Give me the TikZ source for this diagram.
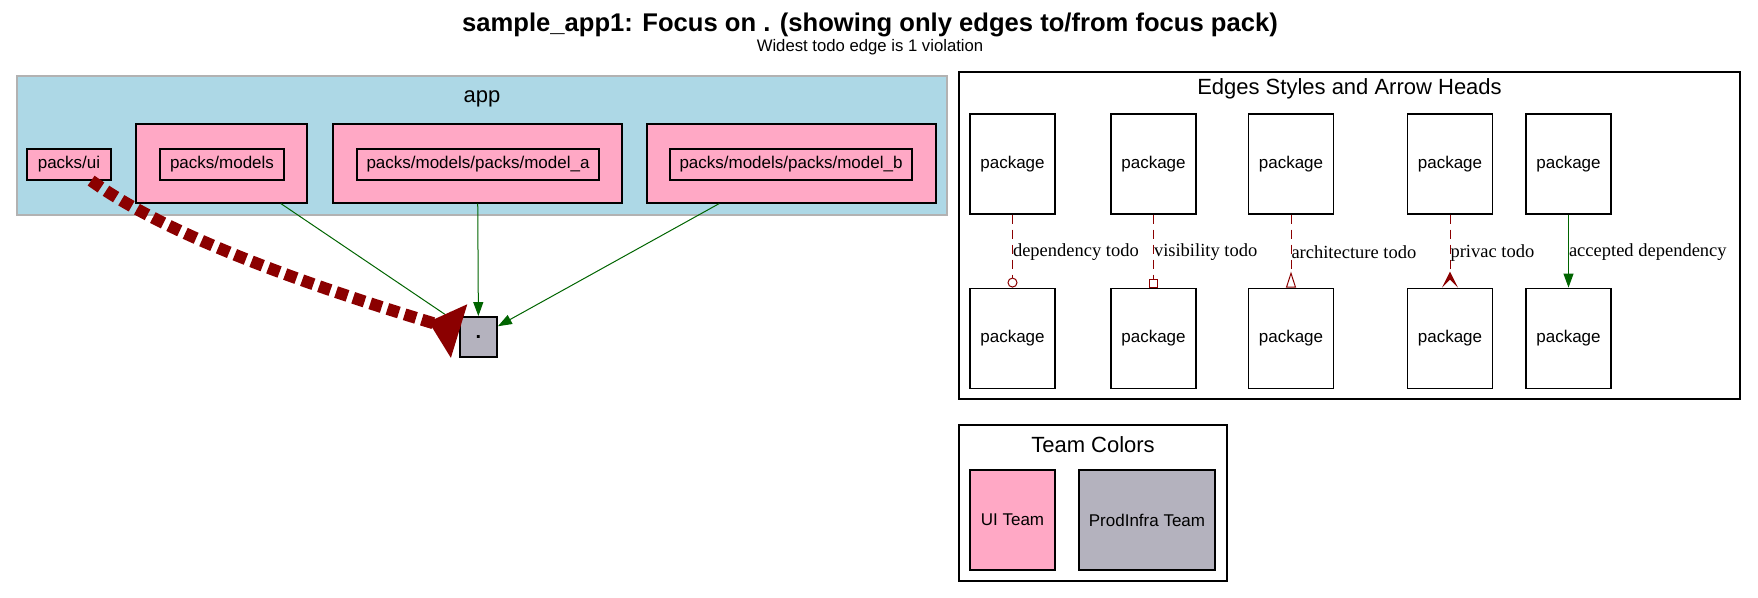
\documentclass[tikz,border=0pt]{standalone}
\usepackage{fontspec}
\setmainfont{Liberation Serif}
\setsansfont{Liberation Sans}
\usetikzlibrary{positioning,arrows.meta}

\definecolor{uipink}{HTML}{FFA8C5}
\definecolor{infragray}{HTML}{B4B2BE}
\definecolor{appblue}{HTML}{ADD8E6}
\definecolor{todored}{HTML}{8B0000}
\definecolor{okgreen}{HTML}{006400}

\begin{document}
\begin{tikzpicture}[
    x=0.5pt, y=-0.5pt,
    pack/.style={
        draw,
        fill=uipink,
        line width=0.6pt,
        inner sep=0pt,
        minimum height=15.5pt,
        font=\sffamily\fontsize{8.5}{10}\selectfont
    },
    outer/.style={
        draw,
        fill=uipink,
        line width=0.6pt,
        inner sep=0pt,
        minimum height=39.5pt
    },
    legendpack/.style={
        draw,
        line width=0.6pt,
        inner sep=0pt,
        minimum width=42.5pt,
        minimum height=50pt,
        font=\sffamily\fontsize{8.5}{10}\selectfont
    },
    cluster/.style={
        draw,
        line width=0.6pt,
        inner sep=0pt
    },
    clusterlabel/.style={
        font=\sffamily\fontsize{11}{13}\selectfont
    },
    todo/.style={
        todored,
        line width=0.5pt,
        dash pattern=on 4.5pt off 3pt
    },
    bigtodo/.style={
        todored,
        line width=6pt,
        dash pattern=on 6pt off 3pt,
        -{Triangle[reversed, length=16pt, width=27pt]}
    },
    accepted/.style={
        okgreen,
        line width=0.5pt,
        -{Triangle[length=7pt, width=5pt]}
    },
    edgelabel/.style={
        anchor=west,
        inner sep=0pt,
        text=black,
        font=\fontsize{9.25}{11}\selectfont
    }
]
\useasboundingbox (0,0) rectangle (1758,598);

% Title
\node (title)    at (870,25) {\sffamily\bfseries\fontsize{12.8}{15}\selectfont sample\_app1: Focus on . (showing only edges to/from focus pack)};
\node (subtitle) at (870,47) {\sffamily\fontsize{8.35}{10}\selectfont Widest todo edge is 1 violation};

% Clusters
\node (app)     [cluster, draw=gray!60, fill=appblue, minimum width=465pt, minimum height=69.5pt] at (482,145.5) {};
\node (applabel)[clusterlabel] at (482,99) {app};
\node (legend)  [cluster, minimum width=390.5pt, minimum height=163.5pt] at (1349.5,235.5) {};
\node (legendlabel)[clusterlabel] at (1349.5,89) {Edges Styles and Arrow Heads};
\node (teams)   [cluster, minimum width=134pt, minimum height=78pt] at (1093,503) {};
\node (teamslabel)[clusterlabel] at (1093,445) {Team Colors};

% Nodes
\node (ui)      [pack, minimum width=42pt] at (69,164.5) {packs/ui};
\node (models)  [outer, minimum width=85.5pt] at (221.5,163.5) {};
\node (modelsin)[pack, minimum width=62pt] at (222,164.5) {packs/models};
\node (modela)  [outer, minimum width=144.5pt] at (477.5,163.5) {};
\node (modelain)[pack, minimum width=121pt] at (478,164.5) {packs/models/packs/model\_a};
\node (modelb)  [outer, minimum width=144.5pt] at (791.5,163.5) {};
\node (modelbin)[pack, minimum width=121pt] at (791,164.5) {packs/models/packs/model\_b};
\node (dot)     [pack, fill=infragray, line width=0.9pt, minimum width=18.5pt, minimum height=20pt,
                 font=\sffamily\bfseries\fontsize{10}{12}\selectfont] at (478.5,337) {.};

% Legend nodes
\node (pa) [legendpack] at (1012.5,164) {package};
\node (pb) [legendpack] at (1153.5,164) {package};
\node (pc) [legendpack] at (1291,164)   {package};
\node (pd) [legendpack] at (1450,164)   {package};
\node (pe) [legendpack] at (1568.5,164) {package};
\node (qa) [legendpack, below=36.5pt of pa] {package};
\node (qb) [legendpack, below=36.5pt of pb] {package};
\node (qc) [legendpack, below=36.5pt of pc] {package};
\node (qd) [legendpack, below=36.5pt of pd] {package};
\node (qe) [legendpack, below=36.5pt of pe] {package};

\node (uiteam)    [legendpack, fill=uipink] at (1012.5,520) {UI Team};
\node (infrateam) [legendpack, fill=infragray, minimum width=68pt] at (1147,520) {ProdInfra Team};

% Arrows
\draw[accepted] (models) -- (dot);
\draw[accepted] (modela) -- (dot);
\draw[accepted] (modelb) -- (dot);
\draw[bigtodo] (ui) to[out=-36, in=163, looseness=0.7] (dot);

\draw[todo, -{Circle[open, length=5pt]}] (pa) -- (qa) node[edgelabel, pos=0.52] {dependency todo};
\draw[todo, -{Square[open, length=4.5pt]}] (pb) -- (qb) node[edgelabel, pos=0.52] {visibility todo};
\draw[todo, -{Triangle[open, reversed, length=8pt, width=5pt]}] (pc) -- (qc) node[edgelabel, pos=0.52] {architecture todo};
\draw[todo, -{Stealth[reversed, length=8pt, width=8pt, inset=4pt]}] (pd) -- (qd) node[edgelabel, pos=0.52] {privac todo};
\draw[accepted] (pe) -- (qe) node[edgelabel, pos=0.52] {accepted dependency};

\end{tikzpicture}
\end{document}
